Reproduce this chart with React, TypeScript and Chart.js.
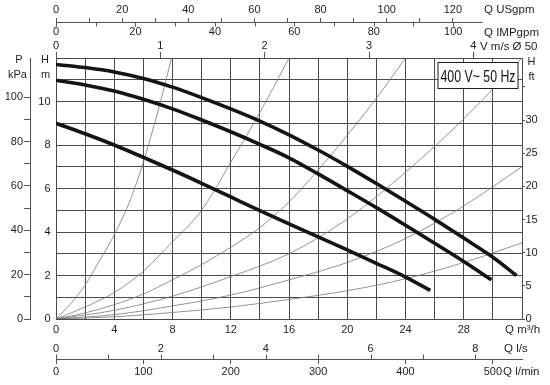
import React, { useEffect, useRef } from 'react';
import { Chart, registerables } from 'chart.js';

Chart.register(...registerables);

// ---------- data (Q in m³/h, H in m) ----------
const curve1Q = [0, 2, 4, 6, 8, 10, 12, 14, 16, 18, 20, 22, 24, 26, 28, 30, 31.62];
const curve1H = [11.7, 11.56, 11.36, 11.06, 10.66, 10.18, 9.66, 9.1, 8.47, 7.77, 7.02, 6.23, 5.41, 4.58, 3.72, 2.84, 2.0];
const curve2Q = [0, 2, 4, 6, 8, 10, 12, 14, 16, 18, 20, 22, 24, 26, 28, 29.9];
const curve2H = [10.98, 10.76, 10.48, 10.1, 9.66, 9.15, 8.61, 8.03, 7.41, 6.67, 5.9, 5.12, 4.31, 3.48, 2.64, 1.8];
const curve3Q = [0, 2, 4, 6, 8, 10, 12, 14, 16, 18, 20, 22, 24, 25.7];
const curve3H = [9.0, 8.52, 8.0, 7.43, 6.85, 6.24, 5.61, 4.98, 4.37, 3.78, 3.18, 2.56, 1.93, 1.32];

// thin system curves
const sys1Q = [0, 1, 2, 3, 4, 5, 5.5, 6, 6.5, 7, 7.5, 7.93];
const sys1H = [0, 0.7, 1.56, 2.7, 3.87, 5.3, 6.2, 7.2, 8.35, 9.55, 10.85, 12];
const sys2Q = [0, 2, 4, 6, 8, 10, 12, 14, 16];
const sys2H = [0, 0.55, 1.22, 2.2, 3.55, 5.0, 7.2, 9.5, 12];
const sys3Q = [0, 2, 4, 6, 8, 10, 12, 14, 16, 18, 20, 22, 24];
const sys3H = [0, 0.28, 0.66, 1.15, 1.8, 2.5, 3.3, 4.2, 5.39, 6.85, 8.45, 10.15, 12];
const sys4Q = [0, 4, 8, 12, 16, 20, 24, 28, 32];
const sys4H = [0, 0.4, 1.05, 1.95, 3.0, 4.6, 6.75, 9.2, 12];
const sys5Q = [0, 4, 8, 12, 16, 20, 24, 28, 32];
const sys5H = [0, 0.2, 0.6, 1.1, 1.8, 2.6, 3.7, 5.2, 7.0];
const sys6Q = [0, 4, 8, 12, 16, 20, 24, 28, 32];
const sys6H = [0, 0.1, 0.3, 0.55, 0.9, 1.3, 1.85, 2.6, 3.5];

// ---------- axes / ticks ----------
const Q_MAX = 32;
const H_MAX = 12;
const M3H_PER_USGPM = 0.22712;
const M3H_PER_IMPGPM = 0.27277;
const M3H_PER_MS = 7.165; // Ø 50
const M3H_PER_LS = 3.6;
const M3H_PER_LMIN = 0.06;
const KPA_PER_M = 9.81;
const M_PER_FT = 0.3048;
const US_LINE_END = 129; // USgpm, end of the top axis line

const qTicks = [0, 2, 4, 6, 8, 10, 12, 14, 16, 18, 20, 22, 24, 26, 28, 30, 32];
const qLabels = [0, 4, 8, 12, 16, 20, 24, 28];
const hTicks = [0, 1, 2, 3, 4, 5, 6, 7, 8, 9, 10, 11, 12];
const hLabels = [0, 2, 4, 6, 8, 10];
const kpaTicks = [0, 10, 20, 30, 40, 50, 60, 70, 80, 90, 100];
const kpaLabels = [0, 20, 40, 60, 80, 100];
const ftTicks = [0, 5, 10, 15, 20, 25, 30, 35];
const ftLabels = [0, 5, 10, 15, 20, 25, 30];
const usTicks = [0, 10, 20, 30, 40, 50, 60, 70, 80, 90, 100, 110, 120];
const usLabels = [0, 20, 40, 60, 80, 100, 120];
const impTicks = [0, 10, 20, 30, 40, 50, 60, 70, 80, 90, 100];
const impLabels = [0, 20, 40, 60, 80, 100];
const velTicks = [0, 1, 2, 3, 4];
const lsTicks = [0, 1, 2, 3, 4, 5, 6, 7, 8];
const lsLabels = [0, 2, 4, 6, 8];
const lminTicks = [0, 100, 200, 300, 400, 500];

const FAMILY = "'Liberation Sans', Arial, Helvetica, sans-serif";
const FONT = { family: FAMILY, size: 11 };
const TEXT = '#1e1e1e';
const GRID = '#4a4a4a';
const AXIS = '#555555';

const zip = (q: number[], h: number[]) => q.map((x, i) => ({ x, y: h[i] }));
const setTicks = (vals: number[]) => (scale: any) => {
  scale.ticks = vals.map((v) => ({ value: v }));
};
const fixH = (h: number) => (scale: any) => {
  scale.height = h;
};
const fixW = (w: number) => (scale: any) => {
  scale.width = w;
};
const labelIf = (vals: number[]) => (v: any) => (vals.includes(Number(v)) ? String(v) : '');

const decor = {
  id: 'pumpDecor',
  afterDraw(chart: any) {
    const { ctx, chartArea: ca, scales } = chart;
    const us = scales.xUs;
    const imp = scales.xImp;
    const ls = scales.xLs;
    const lmin = scales.xLmin;
    ctx.save();
    ctx.strokeStyle = AXIS;
    ctx.lineWidth = 1;
    // shared USgpm / IMPgpm axis line
    const yL = Math.round(us.bottom) + 0.5;
    ctx.beginPath();
    ctx.moveTo(us.getPixelForValue(0), yL);
    ctx.lineTo(us.getPixelForValue(US_LINE_END), yL);
    impTicks.forEach((v) => {
      const x = Math.round(imp.getPixelForValue(v)) + 0.5;
      ctx.moveTo(x, yL);
      ctx.lineTo(x, yL + 4);
    });
    // l/s ticks (upward from l/min axis line)
    const yB = Math.round(lmin.top) + 0.5;
    lsTicks.forEach((v) => {
      const x = Math.round(ls.getPixelForValue(v)) + 0.5;
      ctx.moveTo(x, yB);
      ctx.lineTo(x, yB - 5);
    });
    ctx.stroke();

    // axis titles
    ctx.fillStyle = TEXT;
    ctx.font = `11.5px ${FAMILY}`;
    ctx.textBaseline = 'middle';
    ctx.textAlign = 'left';
    ctx.fillText('Q USgpm', ca.right - 38, 10);
    ctx.fillText('Q IMPgpm', ca.right - 38, 32.5);
    ctx.fillText('V m/s Ø 50', ca.right - 42, 46.5);
    ctx.fillText('Q m³/h', ca.right - 17, ca.bottom + 11);
    ctx.fillText('Q l/s', ca.right - 18, ca.bottom + 29.5);
    ctx.fillText('Q l/min', ca.right - 19, ca.bottom + 52.5);
    ctx.font = `11px ${FAMILY}`;
    ctx.textAlign = 'center';
    ctx.fillText('H', ca.right + 9.5, ca.top + 4);
    ctx.fillText('ft', ca.right + 9.5, ca.top + 19);
    ctx.fillText('P', 19, ca.top + 2);
    ctx.fillText('kPa', 17.5, ca.top + 17);
    ctx.fillText('H', 45, ca.top + 2);
    ctx.fillText('m', 45.5, ca.top + 17);

    // frequency box
    const bx0 = ca.right - 84;
    const bx1 = ca.right - 4;
    const by0 = Math.round(ca.top) + 4.5;
    const by1 = Math.round(ca.top) + 30.5;
    ctx.fillStyle = '#ffffff';
    ctx.fillRect(bx0, by0, bx1 - bx0, by1 - by0);
    ctx.strokeStyle = '#1a1a1a';
    ctx.strokeRect(bx0, by0, bx1 - bx0, by1 - by0);
    ctx.fillStyle = '#111111';
    ctx.translate((bx0 + bx1) / 2, by1 - 6.5);
    ctx.scale(0.77, 1);
    ctx.font = `16px ${FAMILY}`;
    ctx.textAlign = 'center';
    ctx.textBaseline = 'alphabetic';
    ctx.fillText('400 V~ 50 Hz', 0, 0);
    ctx.restore();
  },
};

export default function App() {
  const ref = useRef<HTMLCanvasElement | null>(null);

  useEffect(() => {
    if (!ref.current) return;
    const thick = (q: number[], h: number[]) => ({
      data: zip(q, h),
      borderColor: '#141414',
      borderWidth: 3.6,
      pointRadius: 0,
      showLine: true,
      cubicInterpolationMode: 'monotone' as const,
      xAxisID: 'x',
      yAxisID: 'y',
    });
    const thin = (q: number[], h: number[]) => ({
      data: zip(q, h),
      borderColor: '#777777',
      borderWidth: 0.8,
      pointRadius: 0,
      showLine: true,
      cubicInterpolationMode: 'monotone' as const,
      xAxisID: 'x',
      yAxisID: 'y',
    });

    const chart = new Chart(ref.current, {
      type: 'scatter',
      data: {
        datasets: [
          thick(curve1Q, curve1H),
          thick(curve2Q, curve2H),
          thick(curve3Q, curve3H),
          thin(sys1Q, sys1H),
          thin(sys2Q, sys2H),
          thin(sys3Q, sys3H),
          thin(sys4Q, sys4H),
          thin(sys5Q, sys5H),
          thin(sys6Q, sys6H),
        ],
      },
      options: {
        animation: false,
        responsive: false,
        events: [],
        layout: { padding: 0 },
        plugins: { legend: { display: false }, tooltip: { enabled: false } },
        scales: {
          x: {
            type: 'linear', position: 'bottom', weight: 0, min: 0, max: Q_MAX, bounds: 'data',
            afterBuildTicks: setTicks(qTicks), afterFit: fixH(19),
            grid: { color: GRID, lineWidth: 1, drawTicks: false },
            border: { display: false },
            ticks: { font: FONT, color: TEXT, padding: 4, maxRotation: 0, autoSkip: false, callback: labelIf(qLabels) },
          },
          xLs: {
            type: 'linear', position: 'bottom', weight: 1, min: 0, max: Q_MAX / M3H_PER_LS, bounds: 'data',
            afterBuildTicks: setTicks(lsTicks), afterFit: fixH(21),
            grid: { display: false, drawTicks: false },
            border: { display: false },
            ticks: { font: FONT, color: TEXT, padding: 3.9, maxRotation: 0, autoSkip: false, callback: labelIf(lsLabels) },
          },
          xLmin: {
            type: 'linear', position: 'bottom', weight: 2, min: 0, max: Q_MAX / M3H_PER_LMIN, bounds: 'data',
            afterBuildTicks: setTicks(lminTicks), afterFit: fixH(26),
            grid: { drawOnChartArea: false, drawTicks: true, tickLength: 5, color: AXIS },
            border: { display: true, color: AXIS, width: 1 },
            ticks: { font: FONT, color: TEXT, padding: 1, maxRotation: 0, autoSkip: false },
          },
          xVel: {
            type: 'linear', position: 'top', weight: 0, min: 0, max: Q_MAX / M3H_PER_MS, bounds: 'data',
            afterBuildTicks: setTicks(velTicks), afterFit: fixH(18),
            grid: { drawOnChartArea: false, drawTicks: true, tickLength: 6, color: AXIS },
            border: { display: false },
            ticks: { font: FONT, color: TEXT, padding: -1, maxRotation: 0, autoSkip: false },
          },
          xImp: {
            type: 'linear', position: 'top', weight: 1, min: 0, max: Q_MAX / M3H_PER_IMPGPM, bounds: 'data',
            afterBuildTicks: setTicks(impTicks), afterFit: fixH(18),
            grid: { display: false, drawTicks: false },
            border: { display: false },
            ticks: { font: FONT, color: TEXT, padding: 1, maxRotation: 0, autoSkip: false, callback: labelIf(impLabels) },
          },
          xUs: {
            type: 'linear', position: 'top', weight: 2, min: 0, max: Q_MAX / M3H_PER_USGPM, bounds: 'data',
            afterBuildTicks: setTicks(usTicks), afterFit: fixH(22),
            grid: { drawOnChartArea: false, drawTicks: true, tickLength: 4, color: AXIS },
            border: { display: false },
            ticks: { font: FONT, color: TEXT, padding: 1.4, maxRotation: 0, autoSkip: false, callback: labelIf(usLabels) },
          },
          y: {
            type: 'linear', position: 'left', weight: 0, min: 0, max: H_MAX, bounds: 'data',
            afterBuildTicks: setTicks(hTicks), afterFit: fixW(26),
            grid: { color: GRID, lineWidth: 1, drawTicks: false },
            border: { display: false },
            ticks: { font: FONT, color: TEXT, padding: 5.5, autoSkip: false, callback: labelIf(hLabels) },
          },
          yKpa: {
            type: 'linear', position: 'left', weight: 1, min: 0, max: H_MAX * KPA_PER_M, bounds: 'data',
            afterBuildTicks: setTicks(kpaTicks), afterFit: fixW(30),
            grid: { drawOnChartArea: false, drawTicks: true, tickLength: 6, color: AXIS },
            border: { display: true, color: AXIS, width: 1 },
            ticks: { font: FONT, color: TEXT, padding: 1, autoSkip: false, callback: labelIf(kpaLabels) },
          },
          yFt: {
            type: 'linear', position: 'right', weight: 0, min: 0, max: H_MAX / M_PER_FT, bounds: 'data',
            afterBuildTicks: setTicks(ftTicks), afterFit: fixW(28),
            grid: { drawOnChartArea: false, drawTicks: true, tickLength: 3, color: AXIS },
            border: { display: true, color: GRID, width: 1 },
            ticks: { font: FONT, color: TEXT, padding: 0.5, autoSkip: false, callback: labelIf(ftLabels) },
          },
        },
      } as any,
      plugins: [decor],
    });
    return () => chart.destroy();
  }, []);

  return (
    <div style={{ position: 'absolute', left: 0, top: 0, width: 550, height: 385, background: '#fff' }}>
      <canvas ref={ref} width={550} height={385} style={{ display: 'block', width: 550, height: 385 }} />
    </div>
  );
}
